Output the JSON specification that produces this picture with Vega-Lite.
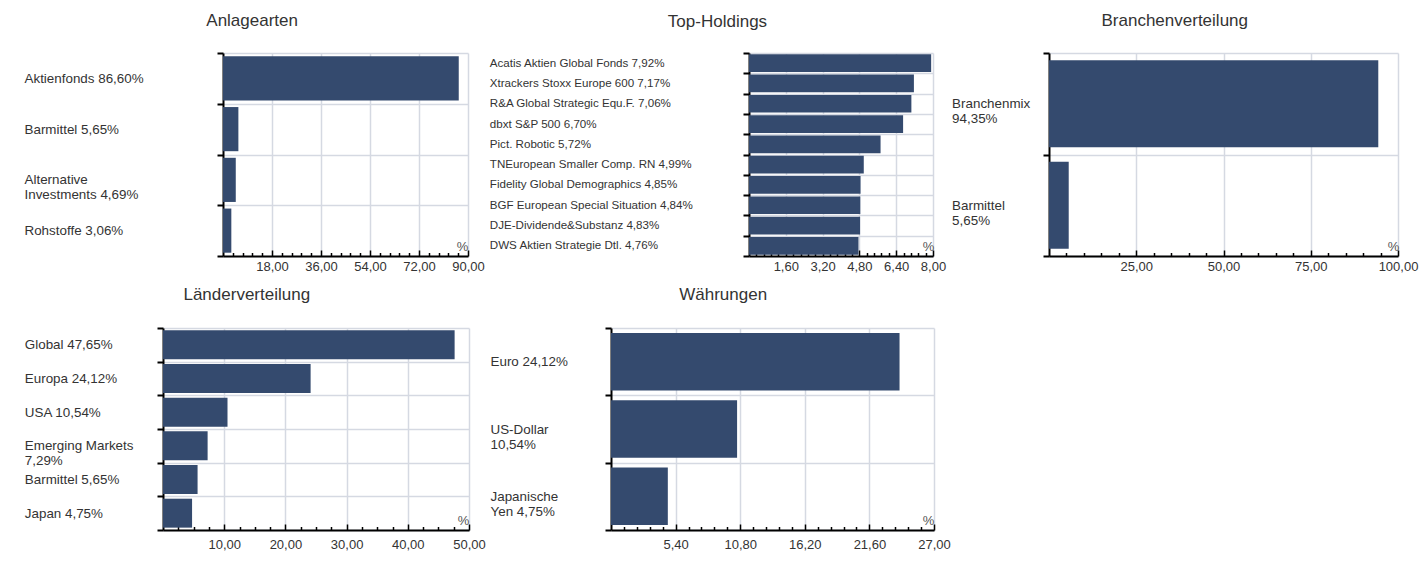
{
  "$schema": "https://vega.github.io/schema/vega-lite/v6.json",
  "padding": {"left": 23, "top": 12, "right": 5, "bottom": 5},
  "background": "white",
  "config": {
    "font": "Liberation Sans",
    "view": {"stroke": null},
    "bar": {"color": "#344a6e"},
    "title": {"fontSize": 17, "fontWeight": "normal", "color": "#333333", "frame": "bounds", "anchor": "middle", "offset": 16},
    "axisY": {"domainColor": "#000000", "domainWidth": 2, "tickColor": "#000000", "tickWidth": 2, "tickSize": 6, "tickBand": "extent", "grid": true, "gridColor": "#d5d9e2", "gridWidth": 1.5, "labelColor": "#333333", "labelAlign": "left", "labelBaseline": "middle", "labelLimit": 400, "labelLineHeight": 15, "labelFontSize": 13.4, "zindex": 1},
    "axisX": {"domainColor": "#000000", "domainWidth": 2, "tickColor": "#000000", "tickWidth": 1.5, "grid": true, "gridColor": "#d5d9e2", "gridWidth": 1.5, "labelColor": "#333333", "labelFontSize": 13, "labelPadding": 10, "labelFlush": false, "labelOverlap": false, "titleFontSize": 13, "titleFontWeight": "normal", "titleColor": "#555555", "titleAlign": "center", "titleBaseline": "alphabetic", "titleY": -6, "zindex": 1}
  },
  "datasets": {
    "anlage": [
      {"label": "Aktienfonds 86,60%", "value": 86.60},
      {"label": "Barmittel 5,65%", "value": 5.65},
      {"label": "Alternative\nInvestments 4,69%", "value": 4.69},
      {"label": "Rohstoffe 3,06%", "value": 3.06}
    ],
    "holdings": [
      {"label": "Acatis Aktien Global Fonds 7,92%", "value": 7.92},
      {"label": "Xtrackers Stoxx Europe 600 7,17%", "value": 7.17},
      {"label": "R&A Global Strategic Equ.F. 7,06%", "value": 7.06},
      {"label": "dbxt S&P 500 6,70%", "value": 6.70},
      {"label": "Pict. Robotic 5,72%", "value": 5.72},
      {"label": "TNEuropean Smaller Comp. RN 4,99%", "value": 4.99},
      {"label": "Fidelity Global Demographics 4,85%", "value": 4.85},
      {"label": "BGF European Special Situation 4,84%", "value": 4.84},
      {"label": "DJE-Dividende&Substanz 4,83%", "value": 4.83},
      {"label": "DWS Aktien Strategie Dtl. 4,76%", "value": 4.76}
    ],
    "branchen": [
      {"label": "Branchenmix\n94,35%", "value": 94.35},
      {"label": "Barmittel\n5,65%", "value": 5.65}
    ],
    "laender": [
      {"label": "Global 47,65%", "value": 47.65},
      {"label": "Europa 24,12%", "value": 24.12},
      {"label": "USA 10,54%", "value": 10.54},
      {"label": "Emerging Markets\n7,29%", "value": 7.29},
      {"label": "Barmittel 5,65%", "value": 5.65},
      {"label": "Japan 4,75%", "value": 4.75}
    ],
    "waehrung": [
      {"label": "Euro 24,12%", "value": 24.12},
      {"label": "US-Dollar\n10,54%", "value": 10.54},
      {"label": "Japanische\nYen 4,75%", "value": 4.75}
    ],
    "empty": []
  },
  "spacing": 10,
  "vconcat": [
    {
      "spacing": 0,
      "hconcat": [
        {"width": 1, "height": 1, "data": {"name": "empty"}, "mark": {"type": "point", "opacity": 0}},
        {
          "spacing": 4,
          "hconcat": [
            {
              "title": {"text": "Anlagearten", "dx": -2},
              "width": 245, "height": 203,
              "data": {"name": "anlage"},
              "mark": {"type": "bar", "height": {"band": 0.87}},
              "encoding": {
                "y": {"field": "label", "type": "nominal", "sort": null, "scale": {"paddingInner": 0, "paddingOuter": 0},
                  "axis": {"title": null, "labelPadding": 193, "labelExpr": "split(datum.label, '\\n')"}},
                "x": {"field": "value", "type": "quantitative", "scale": {"domain": [0, 90], "nice": false},
                  "axis": {
                    "values": [3.6, 7.2, 10.8, 14.4, 18, 21.6, 25.2, 28.8, 32.4, 36, 39.6, 43.2, 46.8, 50.4, 54, 57.6, 61.2, 64.8, 68.4, 72, 75.6, 79.2, 82.8, 86.4, 90],
                    "labelExpr": "round(datum.value*100) % 1800 == 0 ? replace(format(datum.value, '.2f'), '.', ',') : ''",
                    "tickSize": {"condition": {"test": "round(datum.value*100) % 1800 == 0", "value": -6}, "value": -3.5},
                    "gridOpacity": {"condition": {"test": "round(datum.value*100) % 1800 == 0", "value": 1}, "value": 0},
                    "title": "%", "titleX": 239}}
              }
            },
            {
              "spacing": 5,
              "hconcat": [
                {
                  "title": "Top-Holdings",
                  "width": 184, "height": 203,
                  "data": {"name": "holdings"},
                  "mark": {"type": "bar", "height": {"band": 0.87}},
                  "encoding": {
                    "y": {"field": "label", "type": "nominal", "sort": null, "scale": {"paddingInner": 0, "paddingOuter": 0},
                      "axis": {"title": null, "labelPadding": 253.7, "labelFontSize": 11.6, "labelExpr": "split(datum.label, '\\n')"}},
                    "x": {"field": "value", "type": "quantitative", "scale": {"domain": [0, 8], "nice": false},
                      "axis": {
                        "values": [0.32, 0.64, 0.96, 1.28, 1.6, 1.92, 2.24, 2.56, 2.88, 3.2, 3.52, 3.84, 4.16, 4.48, 4.8, 5.12, 5.44, 5.76, 6.08, 6.4, 6.72, 7.04, 7.36, 7.68, 8],
                        "labelExpr": "round(datum.value*100) % 160 == 0 ? replace(format(datum.value, '.2f'), '.', ',') : ''",
                        "tickSize": {"condition": {"test": "round(datum.value*100) % 160 == 0", "value": -6}, "value": -3.5},
                        "gridOpacity": {"condition": {"test": "round(datum.value*100) % 160 == 0", "value": 1}, "value": 0},
                        "title": "%", "titleX": 179}}
                  }
                },
                {
                  "title": {"text": "Branchenverteilung", "dx": -10},
                  "width": 349, "height": 203,
                  "data": {"name": "branchen"},
                  "mark": {"type": "bar", "height": {"band": 0.855}},
                  "encoding": {
                    "y": {"field": "label", "type": "nominal", "sort": null, "scale": {"paddingInner": 0, "paddingOuter": 0},
                      "axis": {"title": null, "labelPadding": 91.4, "labelExpr": "split(datum.label, '\\n')"}},
                    "x": {"field": "value", "type": "quantitative", "scale": {"domain": [0, 100], "nice": false},
                      "axis": {
                        "values": [5, 10, 15, 20, 25, 30, 35, 40, 45, 50, 55, 60, 65, 70, 75, 80, 85, 90, 95, 100],
                        "labelExpr": "round(datum.value*100) % 2500 == 0 ? replace(format(datum.value, '.2f'), '.', ',') : ''",
                        "tickSize": {"condition": {"test": "round(datum.value*100) % 2500 == 0", "value": -6}, "value": -3.5},
                        "gridOpacity": {"condition": {"test": "round(datum.value*100) % 2500 == 0", "value": 1}, "value": 0},
                        "title": "%", "titleX": 344}}
                  }
                }
              ]
            }
          ]
        }
      ]
    },
    {
      "spacing": 0,
      "hconcat": [
        {"width": 1, "height": 1, "data": {"name": "empty"}, "mark": {"type": "point", "opacity": 0}},
        {
          "spacing": 4,
          "hconcat": [
            {
              "title": {"text": "Länderverteilung", "dx": -8, "offset": 17},
              "width": 306, "height": 202,
              "data": {"name": "laender"},
              "mark": {"type": "bar", "height": {"band": 0.86}},
              "encoding": {
                "y": {"field": "label", "type": "nominal", "sort": null, "scale": {"paddingInner": 0, "paddingOuter": 0},
                  "axis": {"title": null, "labelPadding": 132.7, "labelExpr": "split(datum.label, '\\n')"}},
                "x": {"field": "value", "type": "quantitative", "scale": {"domain": [0, 50], "nice": false},
                  "axis": {
                    "values": [2.5, 5, 7.5, 10, 12.5, 15, 17.5, 20, 22.5, 25, 27.5, 30, 32.5, 35, 37.5, 40, 42.5, 45, 47.5, 50],
                    "labelExpr": "round(datum.value*100) % 1000 == 0 ? replace(format(datum.value, '.2f'), '.', ',') : ''",
                    "tickSize": {"condition": {"test": "round(datum.value*100) % 1000 == 0", "value": -6}, "value": -3.5},
                    "gridOpacity": {"condition": {"test": "round(datum.value*100) % 1000 == 0", "value": 1}, "value": 0},
                    "labelPadding": 14,
                    "title": "%", "titleX": 300}}
              }
            },
            {
              "title": {"text": "Währungen", "dx": 3, "offset": 17},
              "width": 323, "height": 202,
              "data": {"name": "waehrung"},
              "mark": {"type": "bar", "height": {"band": 0.855}},
              "encoding": {
                "y": {"field": "label", "type": "nominal", "sort": null, "scale": {"paddingInner": 0, "paddingOuter": 0},
                  "axis": {"title": null, "labelPadding": 115, "labelExpr": "split(datum.label, '\\n')"}},
                "x": {"field": "value", "type": "quantitative", "scale": {"domain": [0, 27], "nice": false},
                  "axis": {
                    "values": [1.08, 2.16, 3.24, 4.32, 5.4, 6.48, 7.56, 8.64, 9.72, 10.8, 11.88, 12.96, 14.04, 15.12, 16.2, 17.28, 18.36, 19.44, 20.52, 21.6, 22.68, 23.76, 24.84, 25.92, 27],
                    "labelExpr": "round(datum.value*100) % 540 == 0 ? replace(format(datum.value, '.2f'), '.', ',') : ''",
                    "tickSize": {"condition": {"test": "round(datum.value*100) % 540 == 0", "value": -6}, "value": -3.5},
                    "gridOpacity": {"condition": {"test": "round(datum.value*100) % 540 == 0", "value": 1}, "value": 0},
                    "labelPadding": 14,
                    "title": "%", "titleX": 317}}
              }
            }
          ]
        }
      ]
    }
  ]
}
